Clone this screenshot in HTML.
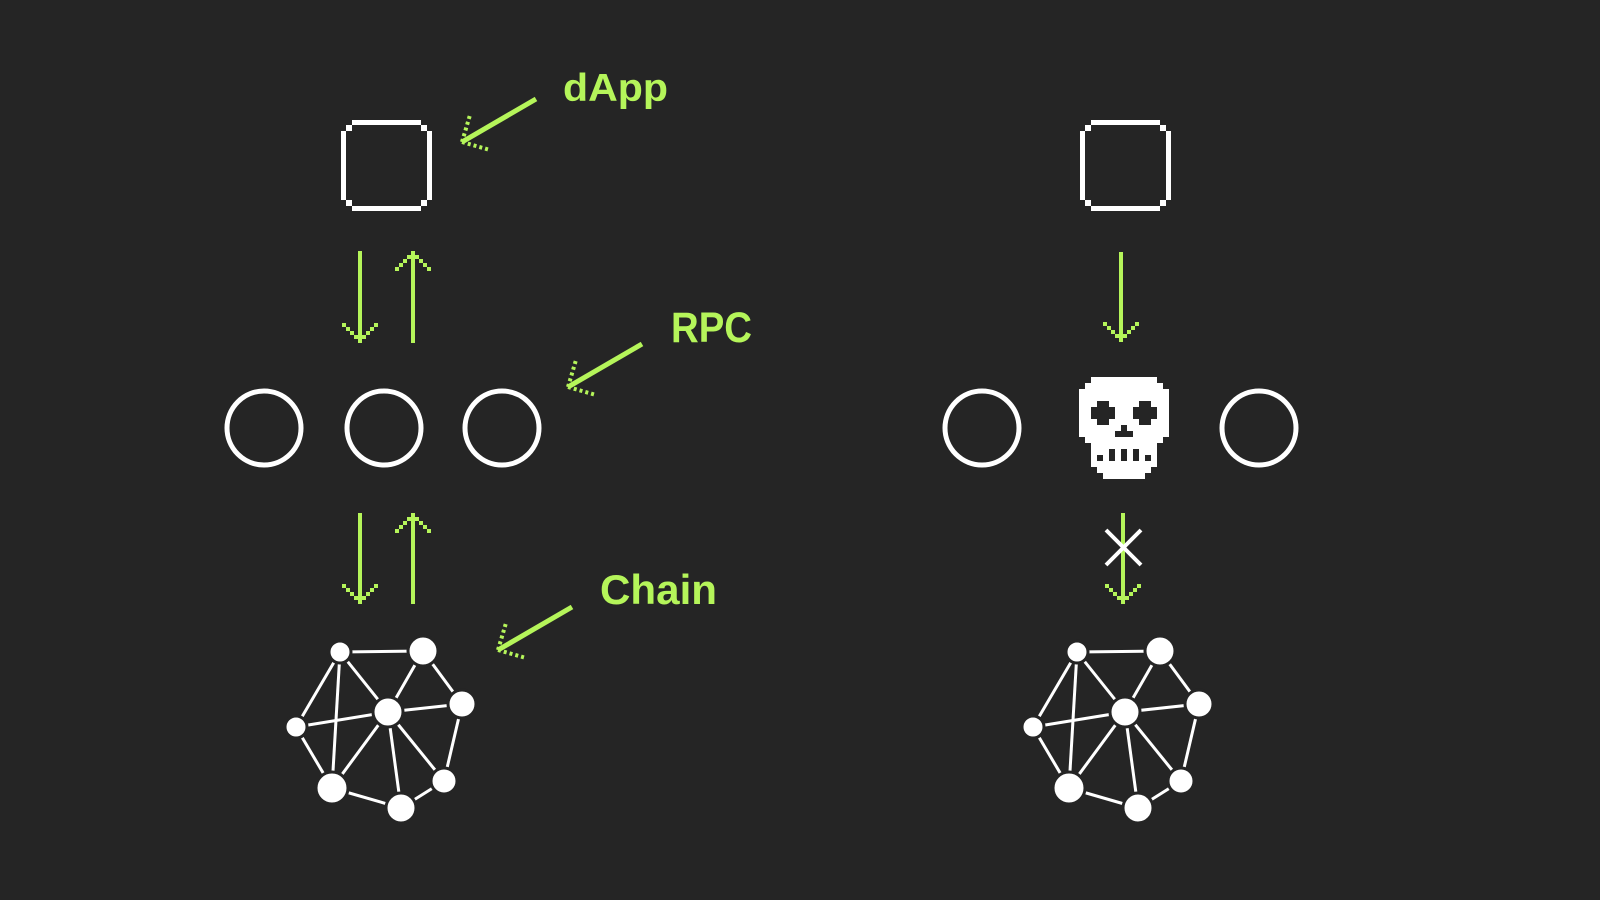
<!DOCTYPE html>
<html><head><meta charset="utf-8"><style>
html,body{margin:0;padding:0;background:#252525;}
svg{display:block}
text{font-family:"Liberation Sans",sans-serif;fill:#b5f55a;font-weight:bold;}
</style></head><body>
<svg width="1600" height="900" viewBox="0 0 1600 900" xmlns="http://www.w3.org/2000/svg">
<rect width="1600" height="900" fill="#252525"/>
<defs>
  <g id="sq">
    <rect x="352" y="120" width="69" height="5" fill="#fff"/>
    <rect x="352" y="206" width="69" height="5" fill="#fff"/>
    <rect x="341" y="131" width="5" height="69" fill="#fff"/>
    <rect x="427" y="131" width="5" height="69" fill="#fff"/>
    <rect x="346" y="125" width="6" height="6" fill="#fff"/>
    <rect x="421" y="125" width="6" height="6" fill="#fff"/>
    <rect x="346" y="200" width="6" height="6" fill="#fff"/>
    <rect x="421" y="200" width="6" height="6" fill="#fff"/>
  </g>
  <g id="dh" fill="#b5f55a">
    <rect x="-2" y="-4" width="4" height="4"/>
    <rect x="-6" y="-8" width="12" height="4"/>
    <rect x="-10" y="-12" width="4" height="4"/><rect x="6" y="-12" width="4" height="4"/>
    <rect x="-14" y="-16" width="4" height="4"/><rect x="10" y="-16" width="4" height="4"/>
    <rect x="-18" y="-20" width="4" height="4"/><rect x="14" y="-20" width="4" height="4"/>
  </g>
  <g id="net" stroke="#fff" stroke-width="3" fill="#fff">
    <line x1="340" y1="652" x2="423" y2="651"/>
    <line x1="340" y1="652" x2="296" y2="727"/>
    <line x1="340" y1="652" x2="332" y2="788"/>
    <line x1="340" y1="652" x2="388" y2="712"/>
    <line x1="423" y1="651" x2="388" y2="712"/>
    <line x1="423" y1="651" x2="462" y2="704"/>
    <line x1="462" y1="704" x2="388" y2="712"/>
    <line x1="296" y1="727" x2="388" y2="712"/>
    <line x1="296" y1="727" x2="332" y2="788"/>
    <line x1="388" y1="712" x2="332" y2="788"/>
    <line x1="388" y1="712" x2="401" y2="808"/>
    <line x1="388" y1="712" x2="444" y2="781"/>
    <line x1="462" y1="704" x2="444" y2="781"/>
    <line x1="332" y1="788" x2="401" y2="808"/>
    <line x1="401" y1="808" x2="444" y2="781"/>
    <g stroke="#252525" stroke-width="3">
    <circle cx="340" cy="652" r="11"/>
    <circle cx="423" cy="651" r="15"/>
    <circle cx="462" cy="704" r="14"/>
    <circle cx="388" cy="712" r="15"/>
    <circle cx="296" cy="727" r="11"/>
    <circle cx="332" cy="788" r="16"/>
    <circle cx="401" cy="808" r="15"/>
    <circle cx="444" cy="781" r="13"/>
    </g>
  </g>
  <g id="la" stroke="#b5f55a" fill="none">
    <line x1="74" y1="-43" x2="0" y2="0" stroke-width="5"/>
    <line x1="0" y1="0" x2="8" y2="-27" stroke-width="4" stroke-dasharray="3 3"/>
    <line x1="0" y1="0" x2="28" y2="8" stroke-width="4" stroke-dasharray="3 3"/>
  </g>
</defs>

<use href="#sq"/>
<text x="563" y="101" font-size="39" textLength="105" lengthAdjust="spacingAndGlyphs">dApp</text>
<use href="#la" x="462" y="142"/>

<line x1="360" y1="251" x2="360" y2="343" stroke="#b5f55a" stroke-width="4"/>
<use href="#dh" x="360" y="343"/>
<line x1="413" y1="251" x2="413" y2="343" stroke="#b5f55a" stroke-width="4"/>
<use href="#dh" transform="translate(413,251) scale(1,-1)"/>

<g fill="none" stroke="#fff" stroke-width="5">
<circle cx="264" cy="428" r="37"/>
<circle cx="384" cy="428" r="37"/>
<circle cx="502" cy="428" r="37"/>
</g>
<text x="671" y="342" font-size="43" textLength="81" lengthAdjust="spacingAndGlyphs">RPC</text>
<use href="#la" x="568" y="387"/>

<line x1="360" y1="513" x2="360" y2="604" stroke="#b5f55a" stroke-width="4"/>
<use href="#dh" x="360" y="604"/>
<line x1="413" y1="513" x2="413" y2="604" stroke="#b5f55a" stroke-width="4"/>
<use href="#dh" transform="translate(413,513) scale(1,-1)"/>

<text x="600" y="604" font-size="42" textLength="117" lengthAdjust="spacingAndGlyphs">Chain</text>
<use href="#la" x="498" y="650"/>

<use href="#net"/>

<use href="#sq" x="739"/>
<line x1="1121" y1="252" x2="1121" y2="342" stroke="#b5f55a" stroke-width="4"/>
<use href="#dh" x="1121" y="342"/>

<g fill="none" stroke="#fff" stroke-width="5">
<circle cx="982" cy="428" r="37"/>
<circle cx="1259" cy="428" r="37"/>
</g>

<g transform="translate(1079,377) scale(6)" fill="#fff">
  <rect x="2" y="0" width="11" height="1"/>
  <rect x="1" y="1" width="13" height="1"/>
  <rect x="0" y="2" width="15" height="8"/>
  <rect x="1" y="10" width="13" height="1"/>
  <rect x="2" y="11" width="11" height="4"/>
  <rect x="3" y="15" width="9" height="1"/>
  <rect x="4" y="16" width="7" height="1"/>
  <g fill="#252525">
    <rect x="3" y="4" width="2" height="1"/><rect x="2" y="5" width="4" height="2"/><rect x="3" y="7" width="2" height="1"/>
    <rect x="10" y="4" width="2" height="1"/><rect x="9" y="5" width="4" height="2"/><rect x="10" y="7" width="2" height="1"/>
    <rect x="7" y="8" width="1" height="1"/><rect x="6" y="9" width="3" height="1"/>
    <rect x="5" y="12" width="1" height="2"/><rect x="7" y="12" width="1" height="2"/><rect x="9" y="12" width="1" height="2"/>
    <rect x="3" y="13" width="1" height="1"/><rect x="11" y="13" width="1" height="1"/>
  </g>
</g>

<line x1="1123" y1="513" x2="1123" y2="604" stroke="#b5f55a" stroke-width="4"/>
<use href="#dh" x="1123" y="604"/>
<g stroke="#fff" stroke-width="4">
<line x1="1106" y1="530" x2="1141" y2="565"/>
<line x1="1141" y1="530" x2="1106" y2="565"/>
</g>

<use href="#net" x="737"/>
</svg>
</body></html>
